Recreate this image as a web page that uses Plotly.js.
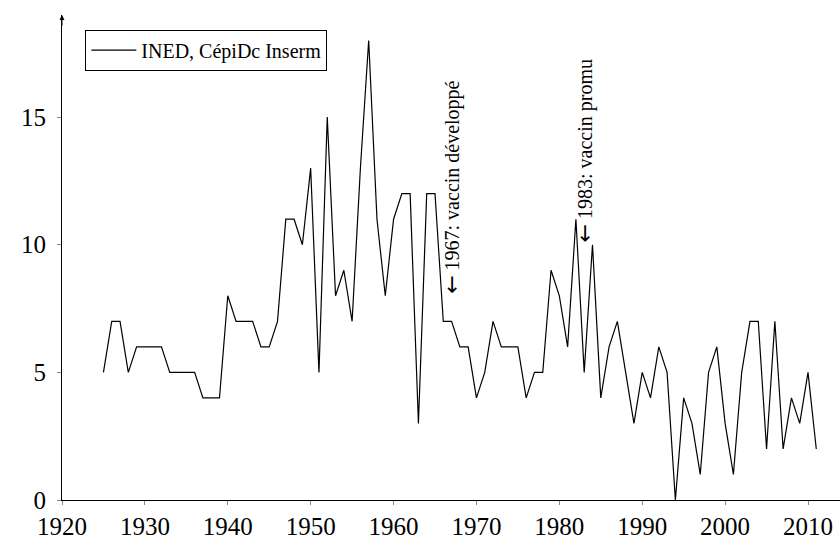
<!DOCTYPE html>
<html>
<head>
<meta charset="utf-8">
<script src="https://cdn.plot.ly/plotly-3.0.1.min.js"></script>
<style>
  html, body { margin: 0; padding: 0; background: #fff; }
  #chart { width: 840px; height: 542px; }
</style>
</head>
<body>
<div id="chart"></div>
<script>
// deaths per year, 1925-2011
const years = [];
for (let y = 1925; y <= 2011; y++) years.push(y);

const deaths = [
  5, 7, 7, 5, 6, 6, 6, 6, 5, 5,          // 1925-1934
  5, 5, 4, 4, 4, 8, 7, 7, 7, 6,          // 1935-1944
  6, 7, 11, 11, 10, 13, 5, 15, 8, 9,     // 1945-1954
  7, 13, 18, 11, 8, 11, 12, 12, 3, 12,   // 1955-1964
  12, 7, 7, 6, 6, 4, 5, 7, 6, 6,         // 1965-1974
  6, 4, 5, 5, 9, 8, 6, 11, 5, 10,        // 1975-1984
  4, 6, 7, 5, 3, 5, 4, 6, 5, 0,          // 1985-1994
  4, 3, 1, 5, 6, 3, 1, 5, 7, 7,          // 1995-2004
  2, 7, 2, 4, 3, 5, 2                    // 2005-2011
];

const xTicks = [1920, 1930, 1940, 1950, 1960, 1970, 1980, 1990, 2000, 2010];
const yTicks = [0, 5, 10, 15];

const events = [
  { year: 1967, value: 8, label: '1967: vaccin développé' },
  { year: 1983, value: 10, label: '1983: vaccin promu' }
];

const serif = 'Liberation Serif, Times New Roman, serif';
const arrow = '<span style="font-family:DejaVu Sans;font-size:22px">←</span> ';

const trace = {
  x: years,
  y: deaths,
  type: 'scatter',
  mode: 'lines',
  name: 'INED, CépiDc Inserm',
  line: { color: '#000', width: 1.2 }
};

const axisBase = {
  showline: true,
  linecolor: '#000',
  linewidth: 1,
  showgrid: false,
  zeroline: false,
  ticks: 'outside',
  ticklen: 4,
  tickcolor: '#888',
  tickfont: { family: serif, size: 25, color: '#000' }
};

const annotations = events.map(e => ({
  x: e.year, y: e.value,
  xref: 'x', yref: 'y',
  text: arrow + e.label,
  textangle: -90,
  showarrow: false,
  xanchor: 'center',
  yanchor: 'bottom',
  font: { family: serif, size: 20, color: '#000' }
}));

// arrow head on top of the y axis
annotations.push({
  xref: 'paper', yref: 'paper', x: 0, y: 1,
  ax: 0, ay: 12, axref: 'pixel', ayref: 'pixel',
  text: '', showarrow: true,
  arrowhead: 2, arrowsize: 1, arrowwidth: 1, arrowcolor: '#000'
});

const layout = {
  width: 840,
  height: 542,
  margin: { l: 62, r: 0, t: 15, b: 42 },
  paper_bgcolor: '#fff',
  plot_bgcolor: '#fff',
  showlegend: true,
  legend: {
    x: 0.03, y: 0.97, xanchor: 'left', yanchor: 'top',
    bordercolor: '#000', borderwidth: 1, bgcolor: '#fff',
    itemwidth: 45,
    font: { family: serif, size: 20, color: '#000' }
  },
  xaxis: Object.assign({}, axisBase, {
    range: [1920, 2013.86],
    tickvals: xTicks
  }),
  yaxis: Object.assign({}, axisBase, {
    range: [0, 19],
    tickvals: yTicks,
    ticklabelstandoff: 6
  }),
  annotations: annotations
};

Plotly.newPlot('chart', [trace], layout, { displayModeBar: false, staticPlot: true });
</script>
</body>
</html>
